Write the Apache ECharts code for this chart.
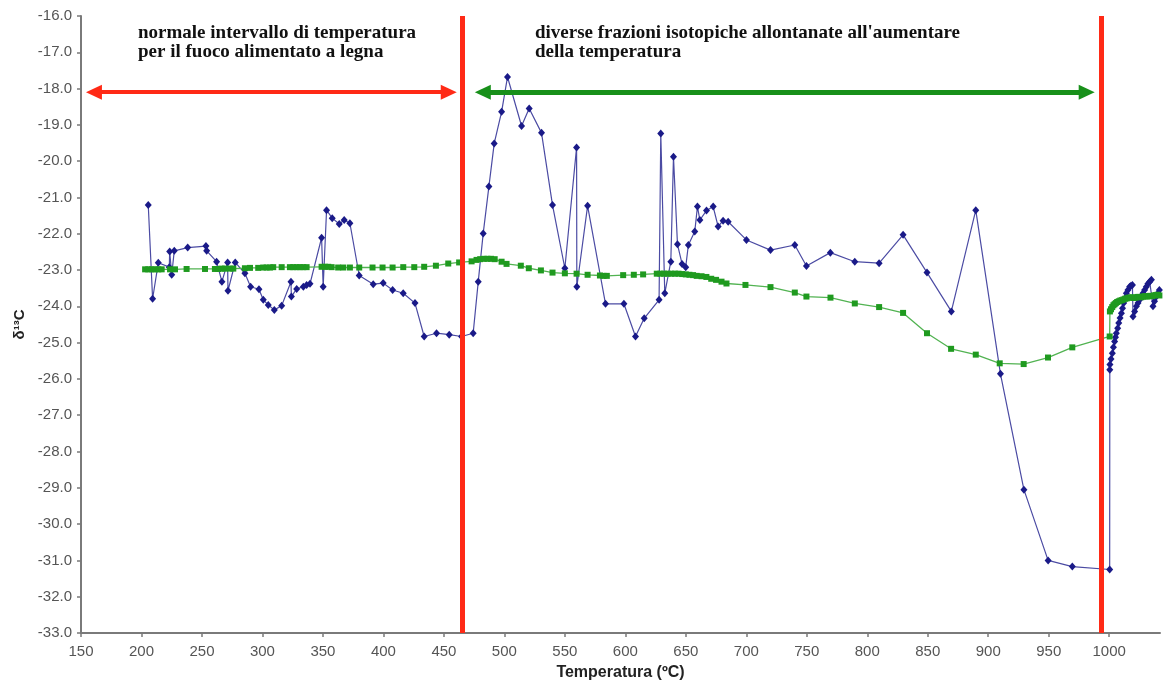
<!DOCTYPE html>
<html>
    <head>
        <meta charset="UTF-8">
        <title>delta 13C vs temperatura</title>
        <script src="https://cdn.jsdelivr.net/npm/echarts@6/dist/echarts.min.js"></script>
        <style>
            html, body { margin: 0; padding: 0; background: #fff; }
            #main { width: 1163px; height: 686px; }
        </style>
    </head>
    <body>
    <div id="main"></div>
    <script type="text/javascript">
        // campione (serie blu, rombi)
        var tempBlue = [
            205.6, 209.2, 213.9, 223.0, 223.3, 225.0, 227.1, 238.2, 253.3, 253.9,
            262.1, 266.5, 271.2, 271.5, 277.5, 285.5, 290.2, 297.1, 300.7, 304.8,
            309.8, 315.9, 323.6, 323.9, 328.3, 333.8, 336.5, 339.3, 348.9, 350.2,
            353.0, 357.7, 363.5, 367.6, 372.3, 380.0, 391.6, 399.8, 407.6, 416.4,
            426.1, 433.7, 443.9, 454.4, 464.6, 474.2, 478.4, 482.5, 487.2, 491.6,
            497.7, 502.6, 514.2, 520.5, 530.7, 539.8, 550.0, 559.7, 559.9, 568.8,
            583.6, 598.8, 608.4, 615.6, 627.9, 629.3, 632.6, 637.6, 639.8, 643.1,
            646.9, 649.9, 652.1, 657.4, 659.6, 661.6, 667.1, 672.6, 676.7, 680.8,
            685.0, 700.1, 720.0, 740.1, 749.7, 769.5, 789.7, 809.8, 829.6, 849.4,
            869.5, 889.7, 910.1, 929.5, 949.5, 969.5, 1000.4,
            1000.5, 1000.6, 1001.5, 1002.6, 1003.5, 1004.5, 1005.2, 1005.9, 1007.0, 1007.9,
            1009.0, 1010.1, 1011.0, 1012.0, 1013.1, 1014.2, 1015.5, 1016.9, 1018.0, 1019.2,
            1019.7, 1021.0, 1022.5, 1023.8, 1025.2, 1026.5, 1027.9, 1029.3, 1030.7, 1032.0,
            1033.5, 1034.9, 1036.2, 1037.5, 1039.0, 1040.3, 1041.5
        ];
        var d13cBlue = [
            -21.21, -23.79, -22.80, -22.92, -22.49, -23.13, -22.47, -22.38, -22.34, -22.47,
            -22.77, -23.32, -22.79, -23.57, -22.79, -23.09, -23.46, -23.53, -23.82, -23.96,
            -24.10, -23.98, -23.32, -23.73, -23.52, -23.46, -23.41, -23.38, -22.11, -23.46,
            -21.35, -21.57, -21.73, -21.62, -21.71, -23.15, -23.39, -23.36, -23.55, -23.64,
            -23.91, -24.83, -24.74, -24.78, -24.83, -24.74, -23.32, -21.99, -20.70, -19.51,
            -18.64, -17.68, -19.03, -18.55, -19.22, -21.21, -22.95, -19.62, -23.46, -21.23,
            -23.93, -23.93, -24.83, -24.33, -23.82, -19.24, -23.64, -22.77, -19.88, -22.29,
            -22.83, -22.92, -22.31, -21.94, -21.25, -21.62, -21.36, -21.25, -21.80, -21.64,
            -21.67, -22.17, -22.45, -22.31, -22.89, -22.52, -22.77, -22.81, -22.03, -23.07,
            -24.14, -21.35, -25.86, -29.05, -31.00, -31.17, -31.25,
            -25.75, -25.60, -25.45, -25.29, -25.13, -24.97, -24.85, -24.74, -24.60, -24.46,
            -24.32, -24.19, -24.05, -23.91, -23.78, -23.64, -23.55, -23.46, -23.43, -23.41,
            -24.28, -24.14, -24.00, -23.91, -23.82, -23.73, -23.64, -23.55, -23.46, -23.38,
            -23.32, -23.27, -24.00, -23.86, -23.73, -23.64, -23.55
        ];

        // riferimento (serie verde, quadrati)
        var tempGreen = [
            203.0, 205.6, 208.4, 211.2, 213.9, 216.7, 223.6, 227.7, 237.3, 252.5,
            260.7, 263.5, 266.3, 269.0, 273.1, 275.9, 285.5, 289.7, 296.5, 300.7,
            303.5, 306.2, 308.9, 315.9, 322.7, 325.5, 328.3, 331.0, 333.7, 336.5,
            348.9, 351.7, 354.4, 357.2, 362.6, 366.8, 372.3, 380.0, 391.0, 399.3,
            407.6, 416.4, 425.5, 433.7, 443.4, 453.6, 462.6, 472.9, 477.0, 480.0,
            483.0, 486.0, 489.0, 492.0, 497.7, 501.8, 513.6, 520.2, 530.2, 539.8,
            550.0, 559.7, 568.8, 579.0, 582.0, 584.7, 598.2, 607.0, 614.7, 626.0,
            629.0, 632.0, 635.0, 638.0, 641.0, 644.0, 647.0, 650.0, 653.0, 656.0,
            659.0, 663.0, 667.0, 671.0, 675.0, 679.5, 683.6, 699.3, 720.0, 740.1,
            749.7, 769.6, 789.7, 809.8, 829.6, 849.4, 869.3, 889.7, 909.5, 929.3,
            949.4, 969.5, 1000.4,
            1000.6, 1001.5, 1002.5, 1003.5, 1004.5, 1005.5, 1006.6, 1007.9, 1009.2, 1010.5,
            1011.8, 1013.2, 1014.5, 1016.0, 1017.5, 1019.0, 1020.5, 1022.0, 1023.5, 1025.0,
            1026.5, 1028.0, 1029.5, 1031.0, 1032.5, 1034.0, 1035.5, 1037.0, 1038.5, 1040.0,
            1041.5
        ];
        var d13cGreen = [
            -22.98, -22.98, -22.98, -22.98, -22.98, -22.98, -22.98, -22.98, -22.97, -22.97,
            -22.97, -22.97, -22.96, -22.96, -22.96, -22.96, -22.95, -22.94, -22.94, -22.93,
            -22.93, -22.93, -22.92, -22.92, -22.92, -22.92, -22.92, -22.92, -22.92, -22.92,
            -22.91, -22.91, -22.91, -22.92, -22.93, -22.93, -22.93, -22.93, -22.93, -22.93,
            -22.93, -22.92, -22.92, -22.91, -22.88, -22.82, -22.79, -22.76, -22.72, -22.70,
            -22.69, -22.69, -22.69, -22.70, -22.77, -22.83, -22.88, -22.95, -23.01, -23.07,
            -23.09, -23.10, -23.13, -23.15, -23.16, -23.16, -23.14, -23.13, -23.12, -23.10,
            -23.10, -23.10, -23.10, -23.10, -23.10, -23.10, -23.11, -23.12, -23.13, -23.14,
            -23.16, -23.17, -23.19, -23.24, -23.27, -23.32, -23.37, -23.41, -23.47, -23.62,
            -23.73, -23.76, -23.92, -24.02, -24.18, -24.74, -25.17, -25.33, -25.57, -25.59,
            -25.41, -25.13, -24.83,
            -24.14, -24.08, -24.02, -23.97, -23.94, -23.91, -23.88, -23.86, -23.84, -23.83,
            -23.81, -23.79, -23.78, -23.76, -23.76, -23.75, -23.77, -23.76, -23.74, -23.74,
            -23.75, -23.73, -23.72, -23.73, -23.72, -23.71, -23.72, -23.70, -23.69, -23.68,
            -23.70
        ];

        // limiti delle zone e frecce
        var zoneLimits = [464.9, 993.8];
        var arrowY = -18.1;
        var redArrow = [160.7, 454.0];
        var greenArrow = [482.2, 981.4];

        function zip(xs, ys) {
            var out = [];
            for (var i = 0; i < Math.min(xs.length, ys.length); i++) {
                out.push([xs[i], ys[i]]);
            }
            return out;
        }

        var myChart = echarts.init(document.getElementById('main'));

        var axisCol = '#7a7a7a';
        var labelCol = '#555';
        var red = '#ff2a16';
        var green = '#18901a';

        var option = {
            backgroundColor: '#fff',
            animation: false,
            grid: { left: 81, right: 3, top: 16, bottom: 52 },
            xAxis: {
                type: 'value',
                min: 150, max: 1042, interval: 50,
                name: 'Temperatura (ºC)',
                nameLocation: 'middle',
                nameGap: 32,
                nameTextStyle: { fontFamily: 'Liberation Sans', fontWeight: 'bold', fontSize: 16, color: '#222' },
                axisLine: { lineStyle: { color: axisCol, width: 2 } },
                axisTick: { length: 4, lineStyle: { color: axisCol, width: 1.5 } },
                axisLabel: {
                    margin: 11,
                    fontFamily: 'Liberation Sans', fontSize: 15, color: labelCol,
                    showMaxLabel: false,
                    formatter: function (v) { return v > 1000 ? '' : String(v); }
                },
                splitLine: { show: false }
            },
            yAxis: {
                type: 'value',
                min: -33, max: -16, interval: 1,
                name: 'δ¹³C',
                nameLocation: 'middle',
                nameRotate: 90,
                nameGap: 52,
                nameTextStyle: { fontFamily: 'Liberation Sans', fontWeight: 'bold', fontSize: 15, color: '#222' },
                axisLine: { show: true, lineStyle: { color: axisCol, width: 2 } },
                axisTick: { show: true, length: 4, lineStyle: { color: axisCol, width: 1.5 } },
                axisLabel: {
                    margin: 9,
                    fontFamily: 'Liberation Sans', fontSize: 15, color: labelCol,
                    formatter: function (v) { return v.toFixed(1); }
                },
                splitLine: { show: false }
            },
            graphic: [
                {
                    type: 'text', left: 138, top: 24,
                    style: {
                        text: 'normale intervallo di temperatura\nper il fuoco alimentato a legna',
                        font: 'bold 19px "Liberation Serif"', lineHeight: 19, fill: '#111'
                    }
                },
                {
                    type: 'text', left: 535, top: 24,
                    style: {
                        text: "diverse frazioni isotopiche allontanate all'aumentare\ndella temperatura",
                        font: 'bold 19px "Liberation Serif"', lineHeight: 19, fill: '#111'
                    }
                }
            ],
            series: [
                {
                    name: 'campione',
                    type: 'line',
                    data: zip(tempBlue, d13cBlue),
                    symbol: 'diamond',
                    symbolSize: [7, 8],
                    itemStyle: { color: '#1a1a88' },
                    lineStyle: { color: '#4b4ba3', width: 1.2 },
                    z: 3,
                    markLine: {
                        silent: true,
                        animation: false,
                        symbol: ['none', 'none'],
                        label: { show: false },
                        lineStyle: { color: red, width: 5, type: 'solid' },
                        data: [
                            { xAxis: zoneLimits[0] },
                            { xAxis: zoneLimits[1] },
                            [
                                { coord: [redArrow[0], arrowY], symbol: 'triangle', symbolSize: [15, 16] },
                                { coord: [redArrow[1], arrowY], symbol: 'triangle', symbolSize: [15, 16],
                                  lineStyle: { color: red, width: 4, type: 'solid' } }
                            ],
                            [
                                { coord: [greenArrow[0], arrowY], symbol: 'triangle', symbolSize: [15, 16] },
                                { coord: [greenArrow[1], arrowY], symbol: 'triangle', symbolSize: [15, 16],
                                  lineStyle: { color: green, width: 5, type: 'solid' } }
                            ]
                        ]
                    }
                },
                {
                    name: 'riferimento',
                    type: 'line',
                    data: zip(tempGreen, d13cGreen),
                    symbol: 'rect',
                    symbolSize: 6,
                    itemStyle: { color: '#1f9a1f' },
                    lineStyle: { color: '#52b352', width: 1.3 },
                    z: 4
                }
            ]
        };

        myChart.setOption(option);
    </script>
    </body>
</html>
